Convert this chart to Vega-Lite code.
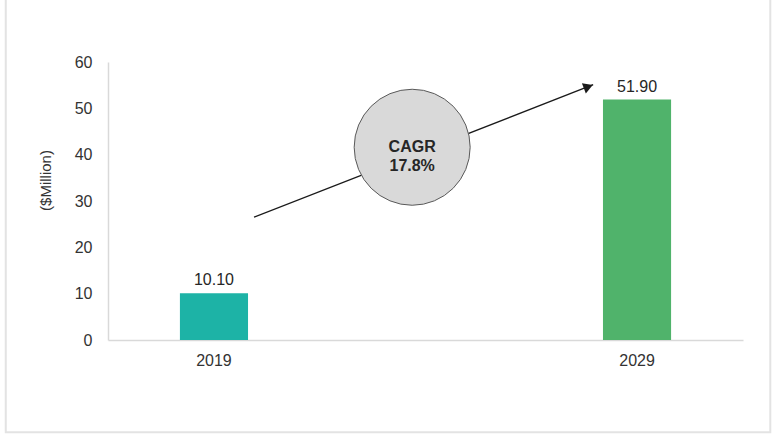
{
  "$schema": "https://vega.github.io/schema/vega-lite/v6.json",
  "autosize": {"type": "none"},
  "padding": {"left": 108, "top": 62, "right": 37, "bottom": 100},
  "width": 635,
  "height": 278,
  "background": "white",
  "datasets": {
    "market": [
      {"year": "2019", "value": 10.1, "label": "10.10"},
      {"year": "2029", "value": 51.9, "label": "51.90"}
    ],
    "frame": [{"fx": -0.161, "fx2": 1.043, "fy": 75, "fy2": -19.9}],
    "arrow": [{"fx": 0.23, "fy": 26.5, "fx2": 0.764, "fy2": 55.1}],
    "head": [{"fx": 0.7564, "fy": 54.65}],
    "bubble": [{"fx": 0.479, "fy": 41.6, "text": "CAGR\n17.8%"}]
  },
  "layer": [
    {
      "data": {"name": "market"},
      "encoding": {
        "x": {
          "field": "year",
          "type": "nominal",
          "scale": {"paddingInner": 0.839, "paddingOuter": 0.17},
          "axis": {
            "title": null,
            "labelAngle": 0,
            "labelFontSize": 16,
            "labelColor": "#333333",
            "labelPadding": 12,
            "ticks": false,
            "domainColor": "#d9d9d9",
            "domainWidth": 1.5
          }
        },
        "y": {
          "field": "value",
          "type": "quantitative",
          "scale": {"domain": [0, 60], "nice": false},
          "axis": {
            "title": "($Million)",
            "values": [0, 10, 20, 30, 40, 50, 60],
            "grid": false,
            "ticks": false,
            "labelFontSize": 16,
            "labelColor": "#333333",
            "labelPadding": 16,
            "domainColor": "#d9d9d9",
            "domainWidth": 1.5,
            "titleFontSize": 15,
            "titleFontWeight": "normal",
            "titleColor": "#333333",
            "titleAngle": -90,
            "titleAlign": "center",
            "titleBaseline": "middle",
            "titleX": -63,
            "titleY": 118
          }
        }
      },
      "layer": [
        {
          "mark": {"type": "bar"},
          "encoding": {
            "color": {
              "field": "year",
              "type": "nominal",
              "scale": {"range": ["#1db3a6", "#50b36b"]},
              "legend": null
            }
          }
        },
        {
          "mark": {"type": "text", "baseline": "bottom", "dy": -5, "fontSize": 16, "color": "#262626"},
          "encoding": {"text": {"field": "label"}}
        }
      ]
    },
    {
      "layer": [
        {
          "data": {"name": "frame"},
          "mark": {"type": "rect", "fill": null, "stroke": "#e3e3e3", "strokeWidth": 2, "clip": false},
          "encoding": {
            "x": {"field": "fx", "type": "quantitative", "scale": {"domain": [0, 1], "nice": false, "zero": false}, "axis": null},
            "x2": {"field": "fx2"},
            "y": {"field": "fy", "type": "quantitative"},
            "y2": {"field": "fy2"}
          }
        },
        {
          "data": {"name": "arrow"},
          "mark": {"type": "rule", "color": "#1a1a1a", "strokeWidth": 1.4},
          "encoding": {
            "x": {"field": "fx", "type": "quantitative", "axis": null},
            "x2": {"field": "fx2"},
            "y": {"field": "fy", "type": "quantitative"},
            "y2": {"field": "fy2"}
          }
        },
        {
          "data": {"name": "head"},
          "mark": {"type": "point", "shape": "triangle-right", "filled": true, "color": "#1a1a1a", "opacity": 1, "size": 120, "angle": -21},
          "encoding": {
            "x": {"field": "fx", "type": "quantitative", "axis": null},
            "y": {"field": "fy", "type": "quantitative"}
          }
        },
        {
          "data": {"name": "bubble"},
          "mark": {"type": "point", "shape": "circle", "filled": false, "fill": "#d9d9d9", "stroke": "#595959", "strokeWidth": 1, "opacity": 1, "fillOpacity": 1, "size": 13456},
          "encoding": {
            "x": {"field": "fx", "type": "quantitative", "axis": null},
            "y": {"field": "fy", "type": "quantitative"}
          }
        },
        {
          "data": {"name": "bubble"},
          "mark": {"type": "text", "fontSize": 16, "fontWeight": "bold", "color": "#262626", "lineBreak": "\n", "lineHeight": 19, "baseline": "middle"},
          "encoding": {
            "x": {"field": "fx", "type": "quantitative", "axis": null},
            "y": {"field": "fy", "type": "quantitative"},
            "text": {"field": "text"}
          }
        }
      ]
    }
  ],
  "resolve": {"scale": {"x": "independent", "color": "independent"}},
  "config": {
    "font": "Liberation Sans",
    "view": {"stroke": null}
  }
}
